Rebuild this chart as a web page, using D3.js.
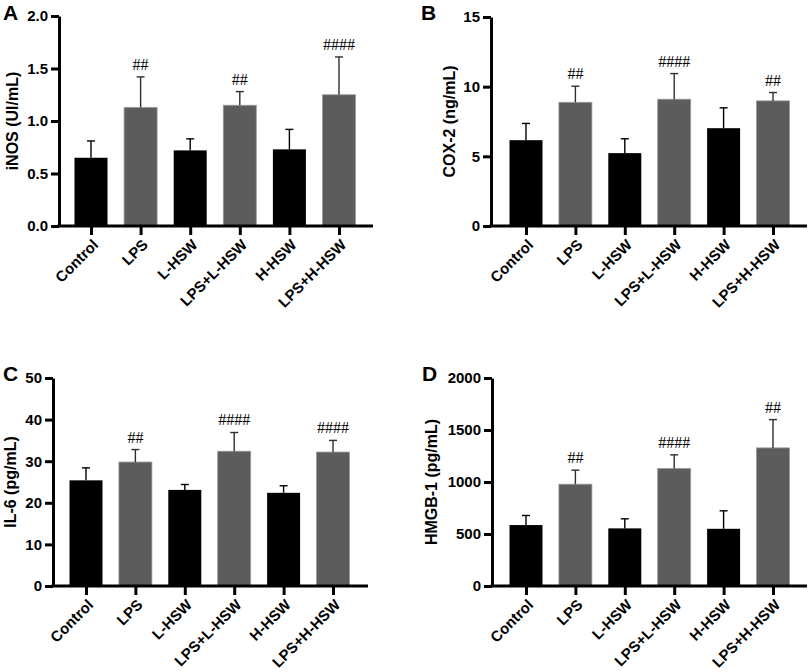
<!DOCTYPE html>
<html>
<head>
<meta charset="utf-8">
<script src="https://cdn.jsdelivr.net/npm/d3@7"></script>
<style>
  body { margin: 0; background: #fff; }
  svg { display: block; font-family: "Liberation Sans", Arial, sans-serif; }
</style>
</head>
<body>
<svg id="chart" width="809" height="672"></svg>
<script>
// Groups shared by all four panels
const groups = ["Control", "LPS", "L-HSW", "LPS+L-HSW", "H-HSW", "LPS+H-HSW"];

// A: iNOS (UI/mL)
const inosMean = [0.65, 1.13, 0.72, 1.15, 0.73, 1.25];
const inosSd = [0.16, 0.29, 0.11, 0.13, 0.19, 0.36];
const inosSig = ["", "##", "", "##", "", "####"];
const inosTicks = [0, 0.5, 1.0, 1.5, 2.0];

// B: COX-2 (ng/mL)
const coxMean = [6.16, 8.88, 5.23, 9.10, 7.02, 8.98];
const coxSd = [1.20, 1.15, 1.03, 1.84, 1.46, 0.60];
const coxSig = ["", "##", "", "####", "", "##"];
const coxTicks = [0, 5, 10, 15];

// C: IL-6 (pg/mL)
const il6Mean = [25.4, 29.8, 23.1, 32.4, 22.4, 32.2];
const il6Sd = [3.0, 3.0, 1.3, 4.5, 1.7, 2.8];
const il6Sig = ["", "##", "", "####", "", "####"];
const il6Ticks = [0, 10, 20, 30, 40, 50];

// D: HMGB-1 (pg/mL)
const hmgbMean = [586, 979, 554, 1130, 550, 1328];
const hmgbSd = [92, 135, 92, 131, 173, 272];
const hmgbSig = ["", "##", "", "####", "", "##"];
const hmgbTicks = [0, 500, 1000, 1500, 2000];

const panels = [
  { letter: "A", label: "iNOS (UI/mL)", mean: inosMean, sd: inosSd, sig: inosSig, ticks: inosTicks, fmt: d3.format(".1f"),
    x0: 59, xEnd: 373, first: 91, last: 339, top: 16, bottom: 226, labelX: 12, letterX: 3, letterY: 20 },
  { letter: "B", label: "COX-2 (ng/mL)", mean: coxMean, sd: coxSd, sig: coxSig, ticks: coxTicks, fmt: d3.format("d"),
    x0: 491, xEnd: 807, first: 526, last: 773, top: 17, bottom: 226, labelX: 449, letterX: 421, letterY: 20 },
  { letter: "C", label: "IL-6 (pg/mL)", mean: il6Mean, sd: il6Sd, sig: il6Sig, ticks: il6Ticks, fmt: d3.format("d"),
    x0: 53, xEnd: 368, first: 86, last: 333, top: 378, bottom: 586, labelX: 10, letterX: 3, letterY: 381 },
  { letter: "D", label: "HMGB-1 (pg/mL)", mean: hmgbMean, sd: hmgbSd, sig: hmgbSig, ticks: hmgbTicks, fmt: d3.format("d"),
    x0: 492, xEnd: 807, first: 526, last: 773, top: 378, bottom: 586, labelX: 431, letterX: 422, letterY: 381 }
];

const barColors = ["#000000", "#5c5c5c", "#000000", "#5c5c5c", "#000000", "#5c5c5c"];
const errColors = ["#000000", "#2e2e2e", "#000000", "#2e2e2e", "#000000", "#2e2e2e"];
const barW = 33;

const svg = d3.select("#chart");

panels.forEach(p => {
  const g = svg.append("g");

  const x = d3.scalePoint().domain(groups).range([p.first, p.last]);
  const y = d3.scaleLinear().domain([0, d3.max(p.ticks)]).range([p.bottom, p.top]);

  const rows = groups.map((name, i) => ({ name, mean: p.mean[i], sd: p.sd[i], sig: p.sig[i], i }));

  // bars
  g.selectAll("rect.bar").data(rows).enter().append("rect")
    .attr("class", "bar")
    .attr("x", d => x(d.name) - barW / 2)
    .attr("y", d => y(d.mean))
    .attr("width", barW)
    .attr("height", d => y(0) - y(d.mean))
    .attr("fill", d => barColors[d.i])
    .attr("stroke", d => d.i % 2 ? "#9a9a9a" : "none")
    .attr("stroke-width", 0.8);

  // one-sided error bars
  const err = g.selectAll("g.err").data(rows).enter().append("g")
    .attr("stroke", d => errColors[d.i])
    .attr("stroke-width", 1.4);
  err.append("line")
    .attr("x1", d => x(d.name)).attr("x2", d => x(d.name))
    .attr("y1", d => y(d.mean)).attr("y2", d => y(d.mean + d.sd));
  err.append("line")
    .attr("x1", d => x(d.name) - 4).attr("x2", d => x(d.name) + 4)
    .attr("y1", d => y(d.mean + d.sd)).attr("y2", d => y(d.mean + d.sd));

  // significance marks
  g.selectAll("text.sig").data(rows.filter(d => d.sig)).enter().append("text")
    .attr("x", d => x(d.name))
    .attr("y", d => y(d.mean + d.sd) - 7)
    .attr("text-anchor", "middle")
    .style("font-family", "'Liberation Serif', 'Times New Roman', serif")
    .style("font-size", "16px")
    .text(d => d.sig);

  // y axis
  const yAxis = g.append("g")
    .attr("transform", `translate(${p.x0},0)`)
    .call(d3.axisLeft(y).tickValues(p.ticks).tickFormat(p.fmt).tickSize(8).tickSizeOuter(0).tickPadding(3));
  yAxis.select(".domain").attr("stroke-width", 3);
  yAxis.selectAll(".tick line").attr("stroke-width", 3);
  yAxis.selectAll(".tick text")
    .style("font-family", "'Liberation Sans', Arial, sans-serif")
    .style("font-size", "15px").style("font-weight", "bold").attr("fill", "#000");

  // x axis
  const xAxis = g.append("g")
    .attr("transform", `translate(0,${p.bottom})`)
    .call(d3.axisBottom(x).tickSize(9).tickSizeOuter(0));
  xAxis.select(".domain").remove();
  xAxis.append("line")
    .attr("x1", p.x0 - 1.5).attr("x2", p.xEnd)
    .attr("stroke", "#000").attr("stroke-width", 3);
  xAxis.selectAll(".tick line").attr("stroke-width", 3);
  xAxis.selectAll(".tick text")
    .attr("y", 0).attr("dy", "0.35em")
    .attr("transform", "translate(4,16) rotate(-45)")
    .attr("text-anchor", "end")
    .style("font-family", "'Liberation Sans', Arial, sans-serif")
    .style("font-size", "15px").style("font-weight", "bold").attr("fill", "#000");

  // y label
  g.append("text")
    .attr("transform", `translate(${p.labelX},${(p.top + p.bottom) / 2}) rotate(-90)`)
    .attr("dy", "0.35em")
    .attr("text-anchor", "middle")
    .style("font-size", "16px").style("font-weight", "bold")
    .text(p.label);

  // panel letter
  g.append("text")
    .attr("x", p.letterX).attr("y", p.letterY)
    .style("font-size", "21px").style("font-weight", "bold")
    .text(p.letter);
});
</script>
</body>
</html>
